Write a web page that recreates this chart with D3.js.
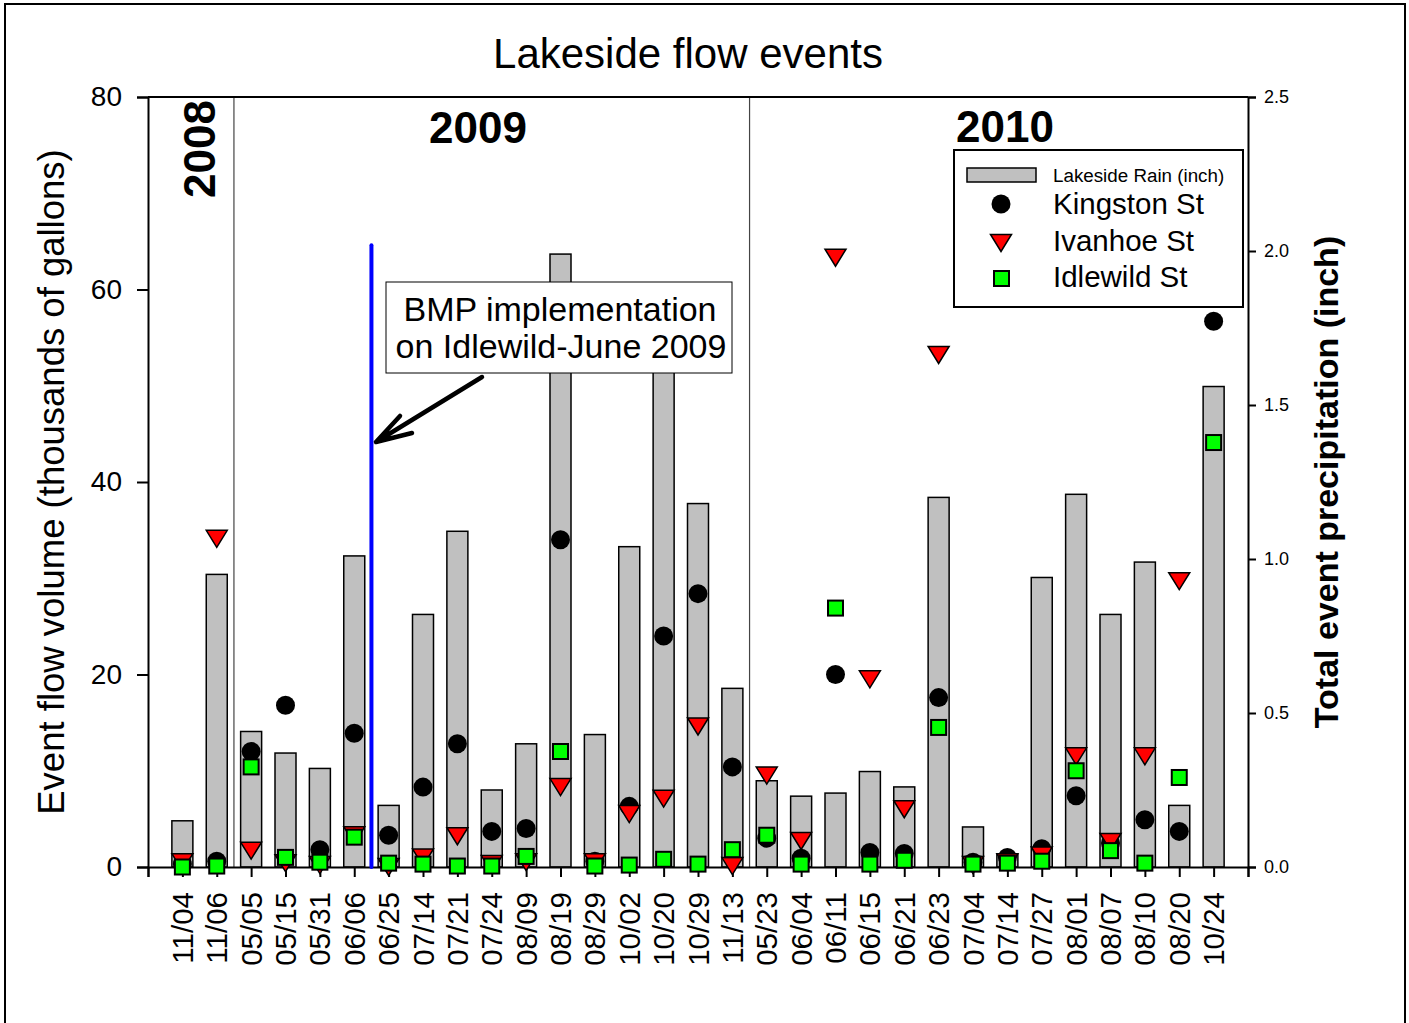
<!DOCTYPE html>
<html>
<head>
<meta charset="utf-8">
<script src="https://cdn.jsdelivr.net/npm/d3@7"></script>
<style>
  body { margin: 0; background: #fff; }
  text { font-family: "Liberation Sans", Arial, sans-serif; }
</style>
</head>
<body>
<div id="chart"></div>
<script>
// event dates (x axis)
var dates = ["11/04","11/06","05/05","05/15","05/31","06/06","06/25","07/14","07/21","07/24","08/09","08/19","08/29","10/02","10/20","10/29","11/13",
             "05/23","06/04","06/11","06/15","06/21","06/23","07/04","07/14","07/27","08/01","08/07","08/10","08/20","10/24"];

// Lakeside rain, inch (right axis)
var rain = [0.15,0.95,0.44,0.37,0.32,1.01,0.20,0.82,1.09,0.25,0.40,1.99,0.43,1.04,1.80,1.18,0.58,
            0.28,0.23,0.24,0.31,0.26,1.20,0.13,0.04,0.94,1.21,0.82,0.99,0.20,1.56];

// flow volume, thousands of gallons (left axis)
var kingston = [0.3,0.6,12.0,16.8,1.8,13.9,3.3,8.3,12.8,3.7,4.0,34.0,0.6,6.3,24.0,28.4,10.4,
                3.0,0.9,20.0,1.5,1.4,17.6,0.5,1.0,1.9,7.4,2.5,4.9,3.7,56.7];
var ivanhoe  = [0.5,34.1,1.7,0.4,0.2,3.3,0.0,1.0,3.2,0.3,0.5,8.3,0.5,5.5,7.1,14.6,0.1,
                9.5,2.7,63.3,19.5,6.0,53.2,0.2,0.5,1.2,11.5,2.6,11.5,29.7,null];
var idlewild = [0.0,0.1,10.4,1.0,0.5,3.1,0.4,0.3,0.1,0.1,1.1,12.0,0.1,0.2,0.8,0.3,1.8,
                3.3,0.3,26.9,0.3,0.7,14.5,0.3,0.4,0.6,10.0,1.7,0.4,9.3,44.1];

var flowTicks = [0,20,40,60,80];
var rainTicks = [0,0.5,1.0,1.5,2.0,2.5];

// year groups: label, first and last index
var years = [
  {label: "2008", from: 0, to: 1},
  {label: "2009", from: 2, to: 16},
  {label: "2010", from: 17, to: 30}
];
var bmpFlow = 64.6;   // top of the blue BMP line (flow units)

var W = 1409, H = 1023;
var pL = 148, pR = 1248, pT = 97, pB = 867;

var svg = d3.select("#chart").append("svg")
    .attr("width", W).attr("height", H);

// outer frame
svg.append("rect")
  .attr("x", 5).attr("y", 4).attr("width", 1400).attr("height", 1040)
  .attr("fill", "none").attr("stroke", "#000").attr("stroke-width", 2);

var x = d3.scaleLinear().domain([0, dates.length + 1]).range([pL, pR]);
var yFlow = d3.scaleLinear().domain([0, 80]).range([pB, pT]);
var yRain = d3.scaleLinear().domain([0, 2.5]).range([pB, pT]);

var barW = 21;

// title
svg.append("text").attr("x", 688).attr("y", 68).attr("text-anchor", "middle")
  .style("font-size", "42px").text("Lakeside flow events");

// year separators
svg.selectAll(".sep").data(years.slice(1)).enter().append("line")
  .attr("x1", function(d) { return x(d.from + 0.5); })
  .attr("x2", function(d) { return x(d.from + 0.5); })
  .attr("y1", pT).attr("y2", pB)
  .attr("stroke", "#444").attr("stroke-width", 1.2);

// rain bars
svg.append("g").selectAll("rect").data(rain).enter().append("rect")
  .attr("x", function(d, i) { return x(i + 1) - barW / 2; })
  .attr("y", function(d) { return yRain(d); })
  .attr("width", barW)
  .attr("height", function(d) { return pB - yRain(d); })
  .attr("fill", "#c0c0c0").attr("stroke", "#000").attr("stroke-width", 1.5);

// frame top line
svg.append("line").attr("x1", pL).attr("x2", pR).attr("y1", pT).attr("y2", pT)
  .attr("stroke", "#000").attr("stroke-width", 2);

// left axis
var axL = svg.append("g").attr("transform", "translate(" + pL + ",0)")
  .call(d3.axisLeft(yFlow).tickValues(flowTicks).tickSize(11).tickPadding(15).tickFormat(d3.format("d")));
axL.selectAll("text").style("font-size", "28px").attr("fill", "#000");

// right axis
var axR = svg.append("g").attr("transform", "translate(" + pR + ",0)")
  .call(d3.axisRight(yRain).tickValues(rainTicks).tickSize(8).tickPadding(8).tickFormat(d3.format(".1f")));
axR.selectAll("text").style("font-size", "18px").attr("fill", "#000");

// bottom axis: ticks at every slot incl. both ends
var axB = svg.append("g").attr("transform", "translate(0," + pB + ")")
  .call(d3.axisBottom(x).tickValues(d3.range(0, dates.length + 2)).tickSize(10).tickFormat(""));

[axL, axR, axB].forEach(function(a) {
  a.select(".domain").attr("stroke-width", 2);
  a.selectAll(".tick line").attr("stroke-width", 2);
});

// date labels, rotated
svg.append("g").selectAll("text").data(dates).enter().append("text")
  .attr("transform", function(d, i) { return "translate(" + (x(i + 1) + 10.5) + "," + 892 + ") rotate(-90)"; })
  .attr("text-anchor", "end")
  .style("font-size", "29.5px")
  .text(function(d) { return d; });

// axis titles
svg.append("text").attr("transform", "translate(64," + 482 + ") rotate(-90)")
  .attr("text-anchor", "middle").style("font-size", "36.5px")
  .text("Event flow volume (thousands of gallons)");
svg.append("text").attr("transform", "translate(1338," + 482 + ") rotate(-90)")
  .attr("text-anchor", "middle").style("font-size", "34px").style("font-weight", "bold")
  .text("Total event precipitation (inch)");

// year labels
svg.append("text").attr("transform", "translate(215,149) rotate(-90)")
  .attr("text-anchor", "middle").style("font-size", "44px").style("font-weight", "bold")
  .text(years[0].label);
svg.append("text").attr("x", 478).attr("y", 143).attr("text-anchor", "middle")
  .style("font-size", "44px").style("font-weight", "bold").text(years[1].label);
svg.append("text").attr("x", 1005).attr("y", 142).attr("text-anchor", "middle")
  .style("font-size", "44px").style("font-weight", "bold").text(years[2].label);

// BMP line
var bmpX = x(6.5);
svg.append("line").attr("x1", bmpX).attr("x2", bmpX)
  .attr("y1", yFlow(bmpFlow)).attr("y2", pB)
  .attr("stroke", "#0000ff").attr("stroke-width", 4).attr("stroke-linecap", "round");

// markers
var tri = "M-10.5,-8.5L10.5,-8.5L0,8.5Z";

svg.append("g").selectAll("circle")
  .data(kingston.map(function(v, i) { return {v: v, i: i}; }).filter(function(d) { return d.v != null; }))
  .enter().append("circle")
  .attr("cx", function(d) { return x(d.i + 1); })
  .attr("cy", function(d) { return yFlow(d.v); })
  .attr("r", 9.5).attr("fill", "#000");

svg.append("g").selectAll("path")
  .data(ivanhoe.map(function(v, i) { return {v: v, i: i}; }).filter(function(d) { return d.v != null; }))
  .enter().append("path")
  .attr("d", tri)
  .attr("transform", function(d) { return "translate(" + x(d.i + 1) + "," + yFlow(d.v) + ")"; })
  .attr("fill", "#ff0000").attr("stroke", "#000").attr("stroke-width", 1.5);

svg.append("g").selectAll("rect")
  .data(idlewild.map(function(v, i) { return {v: v, i: i}; }).filter(function(d) { return d.v != null; }))
  .enter().append("rect")
  .attr("x", function(d) { return x(d.i + 1) - 7.5; })
  .attr("y", function(d) { return yFlow(d.v) - 7.5; })
  .attr("width", 15).attr("height", 15)
  .attr("fill", "#00ff00").attr("stroke", "#000").attr("stroke-width", 2);

// annotation box + arrow
svg.append("rect").attr("x", 386).attr("y", 282).attr("width", 346).attr("height", 91)
  .attr("fill", "#fff").attr("stroke", "#000").attr("stroke-width", 1);
svg.append("text").attr("x", 560).attr("y", 321).attr("text-anchor", "middle")
  .style("font-size", "34px").text("BMP implementation");
svg.append("text").attr("x", 561).attr("y", 358).attr("text-anchor", "middle")
  .style("font-size", "34px").text("on Idlewild-June 2009");

svg.append("path")
  .attr("d", "M482,377L376,442M412,433L376,442L400,416")
  .attr("fill", "none").attr("stroke", "#000").attr("stroke-width", 4.5)
  .attr("stroke-linecap", "round").attr("stroke-linejoin", "round");

// legend
var lg = svg.append("g");
lg.append("rect").attr("x", 954).attr("y", 150).attr("width", 289).attr("height", 157)
  .attr("fill", "#fff").attr("stroke", "#000").attr("stroke-width", 2);
lg.append("rect").attr("x", 967).attr("y", 168).attr("width", 69).attr("height", 14)
  .attr("fill", "#c0c0c0").attr("stroke", "#000").attr("stroke-width", 1.5);
lg.append("circle").attr("cx", 1001).attr("cy", 204).attr("r", 9.5).attr("fill", "#000");
lg.append("path").attr("d", tri).attr("transform", "translate(1001,243)")
  .attr("fill", "#ff0000").attr("stroke", "#000").attr("stroke-width", 1.5);
lg.append("rect").attr("x", 994).attr("y", 271).attr("width", 15).attr("height", 15)
  .attr("fill", "#00ff00").attr("stroke", "#000").attr("stroke-width", 2);
lg.append("text").attr("x", 1053).attr("y", 182).style("font-size", "18.8px").text("Lakeside Rain (inch)");
lg.append("text").attr("x", 1053).attr("y", 214).style("font-size", "29.5px").text("Kingston St");
lg.append("text").attr("x", 1053).attr("y", 251).style("font-size", "29.5px").text("Ivanhoe St");
lg.append("text").attr("x", 1053).attr("y", 287).style("font-size", "29.5px").text("Idlewild St");
</script>
</body>
</html>
